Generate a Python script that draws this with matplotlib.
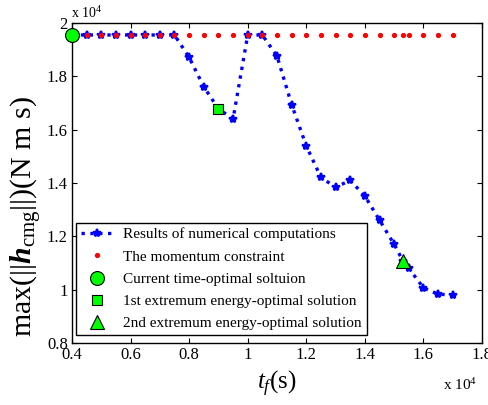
import matplotlib
matplotlib.use('Agg')
import matplotlib.pyplot as plt
from matplotlib.ticker import FuncFormatter

plt.rcParams['font.family'] = ['Liberation Serif', 'DejaVu Serif']
plt.rcParams['mathtext.fontset'] = 'custom'
plt.rcParams['mathtext.rm'] = 'Liberation Serif'
plt.rcParams['mathtext.it'] = 'Liberation Serif:italic'
plt.rcParams['mathtext.bf'] = 'Liberation Serif:bold:italic'

# numerical results: final time (s) vs max momentum (N m s)
tf_results = [4000, 4500, 5000, 5500, 6000, 6500, 7000, 7500, 8000, 8500, 9000,
              9500, 10000, 10500, 11000, 11500, 12000, 12500, 13000, 13500,
              14000, 14500, 15000, 15300, 15500, 16000, 16500, 17000]
h_results = [19550, 19550, 19550, 19550, 19550, 19550, 19550, 19550, 18710, 17610, 16780,
             16400, 19550, 19550, 18760, 16940, 15390, 14210, 13840, 14100,
             13510, 12610, 11700, 11080, 10800, 10070, 9830, 9800]

# momentum constraint
tf_constraint = [4500, 5000, 5500, 6000, 6500, 7000, 7500, 8000, 8500, 9000, 9500,
                 10000, 10500, 11000, 11500, 12000, 12500, 13000, 13500, 14000,
                 14500, 15000, 15300, 15500, 16000, 16500, 17000]
h_constraint = [19550] * len(tf_constraint)

# special solutions
tf_time_opt, h_time_opt = 4000, 19550
tf_energy1, h_energy1 = 9000, 16780
tf_energy2, h_energy2 = 15300, 11080

fig = plt.figure(figsize=(4.89, 4.05), dpi=100)
ax = fig.add_axes([72/489, 62/405, 410/489, 320/405])

ax.plot(tf_results, h_results, ':', color='blue', lw=2.4, marker='*', markersize=6,
        markeredgewidth=1.6, label='Results of numerical computations', zorder=2)
ax.plot(tf_constraint, h_constraint, '.', color='red', markersize=5.5, lw=0,
        label='The momentum constraint', zorder=3)
ax.plot(tf_time_opt, h_time_opt, 'o', markersize=10, markerfacecolor='#00ff00',
        markeredgecolor='black', markeredgewidth=0.8, lw=0,
        label='Current time-optimal soltuion', zorder=5, clip_on=False)
ax.plot(tf_energy1, h_energy1, 's', markersize=7.5, markerfacecolor='#00ff00',
        markeredgecolor='black', markeredgewidth=0.8, lw=0,
        label='1st extremum energy-optimal solution', zorder=5)
ax.plot(tf_energy2, h_energy2, '^', markersize=9.5, markerfacecolor='#00ff00',
        markeredgecolor='black', markeredgewidth=0.8, lw=0,
        label='2nd extremum energy-optimal solution', zorder=5)

ax.set_xlim(4000, 18000)
ax.set_ylim(8000, 20000)
ax.set_xticks([4000, 6000, 8000, 10000, 12000, 14000, 16000, 18000])
ax.set_yticks([8000, 10000, 12000, 14000, 16000, 18000, 20000])
fmt = FuncFormatter(lambda v, p: '%g' % round(v / 1e4, 2))
ax.xaxis.set_major_formatter(fmt)
ax.yaxis.set_major_formatter(fmt)
ax.tick_params(direction='in', top=True, right=True, length=3.5, labelsize=12, pad=3)
for s in ax.spines.values():
    s.set_linewidth(1.0)

ax.set_xlabel(r'$t_f$(s)', fontsize=18, labelpad=4)
fig.text(27/489, 1 - 217/405, r'max(||$\mathbf{h}_{\mathrm{cmg}}$||)(N m s)',
         fontsize=21.5, rotation=90, ha='center', va='center')

fig.text(71/489, 1 - 21/405, r'x 10$^4$', fontsize=10, ha='left', va='bottom')
fig.text(477/489, 1 - 385/405, r'x 10$^4$', fontsize=11, ha='right', va='center')

leg = ax.legend(loc='lower left', bbox_to_anchor=(0.01, 0.025), borderaxespad=0,
                fontsize=11, numpoints=1, fancybox=False, framealpha=1,
                edgecolor='black', handlelength=2.2, handletextpad=0.6,
                labelspacing=0.56, borderpad=0.3)
leg.get_frame().set_linewidth(1.0)

fig.savefig('out.png', dpi=100)
